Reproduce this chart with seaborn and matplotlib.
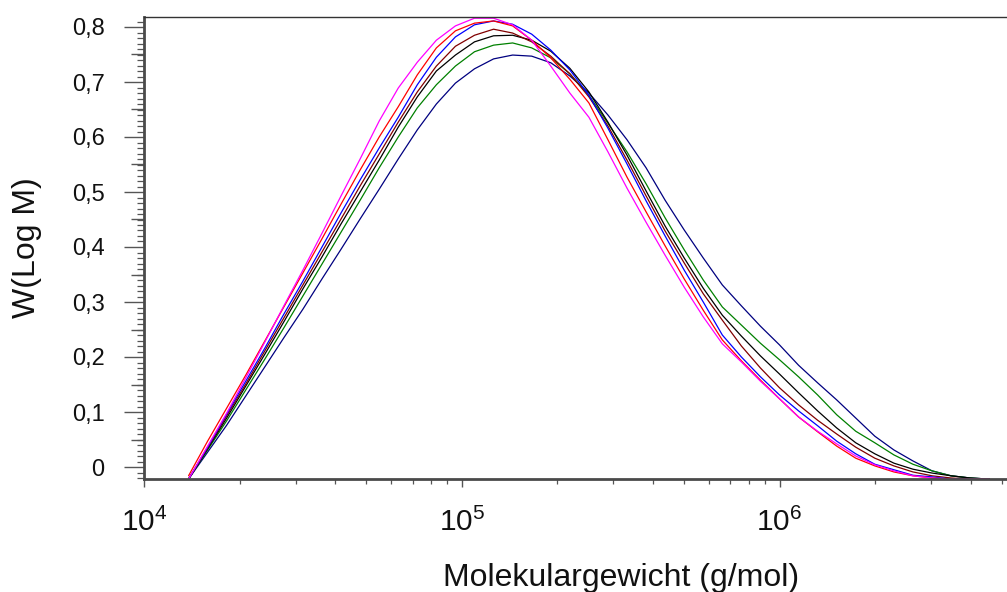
import numpy as np
import pandas as pd
import matplotlib
matplotlib.use("Agg")
import matplotlib.pyplot as plt
import seaborn as sns
from matplotlib.ticker import FixedLocator, MultipleLocator, FuncFormatter, LogLocator

# ---------------- data ----------------
molar_mass = [13804, 15849, 18197, 20893, 23988, 27542, 31623, 36308, 41687, 47863,
              54954, 63096, 72444, 83176, 95499, 109648, 125893, 144544, 165959, 190546,
              218776, 251189, 288403, 331131, 380189, 436516, 501187, 575440, 660693, 758578,
              870964, 1000000, 1148154, 1318257, 1513561, 1737801, 1995262, 2290868, 2630268,
              3019952, 3467369, 3981072, 4570882]

w_magenta = [-0.022, 0.038, 0.098, 0.162, 0.227, 0.293, 0.358, 0.425, 0.493, 0.560, 0.629,
             0.689, 0.736, 0.776, 0.802, 0.816, 0.816, 0.804, 0.776, 0.729, 0.680, 0.636,
             0.573, 0.507, 0.445, 0.385, 0.327, 0.273, 0.224, 0.191, 0.156, 0.124, 0.091,
             0.065, 0.042, 0.020, 0.004, -0.007, -0.016, -0.020, -0.022, -0.022, -0.022]
w_red = [-0.016, 0.047, 0.107, 0.167, 0.229, 0.291, 0.353, 0.415, 0.478, 0.540, 0.600,
         0.655, 0.713, 0.762, 0.793, 0.807, 0.811, 0.802, 0.776, 0.744, 0.705, 0.662,
         0.595, 0.527, 0.464, 0.402, 0.342, 0.285, 0.231, 0.193, 0.158, 0.124, 0.091,
         0.064, 0.038, 0.016, 0.002, -0.009, -0.016, -0.020, -0.022, -0.022, -0.022]
w_blue = [-0.022, 0.036, 0.096, 0.156, 0.216, 0.278, 0.338, 0.400, 0.462, 0.522, 0.580,
          0.636, 0.695, 0.745, 0.782, 0.804, 0.811, 0.805, 0.787, 0.758, 0.722, 0.676,
          0.616, 0.551, 0.484, 0.420, 0.358, 0.300, 0.240, 0.200, 0.164, 0.131, 0.102,
          0.075, 0.047, 0.024, 0.005, -0.005, -0.015, -0.018, -0.022, -0.022, -0.022]
w_brown = [-0.022, 0.035, 0.093, 0.151, 0.211, 0.271, 0.331, 0.391, 0.451, 0.511, 0.569,
           0.627, 0.682, 0.729, 0.765, 0.785, 0.796, 0.789, 0.773, 0.747, 0.715, 0.673,
           0.620, 0.558, 0.493, 0.429, 0.371, 0.315, 0.267, 0.220, 0.180, 0.144, 0.113,
           0.085, 0.060, 0.036, 0.016, 0.002, -0.009, -0.016, -0.020, -0.022, -0.022]
w_black = [-0.022, 0.033, 0.089, 0.147, 0.205, 0.264, 0.324, 0.382, 0.442, 0.500, 0.558,
           0.618, 0.673, 0.720, 0.749, 0.773, 0.784, 0.785, 0.776, 0.756, 0.725, 0.682,
           0.627, 0.567, 0.502, 0.438, 0.380, 0.325, 0.276, 0.238, 0.202, 0.169, 0.135,
           0.102, 0.071, 0.044, 0.024, 0.007, -0.004, -0.011, -0.016, -0.020, -0.022]
w_green = [-0.022, 0.031, 0.084, 0.140, 0.196, 0.253, 0.311, 0.369, 0.427, 0.485, 0.544,
           0.600, 0.653, 0.695, 0.729, 0.755, 0.767, 0.771, 0.762, 0.744, 0.715, 0.676,
           0.625, 0.573, 0.515, 0.453, 0.395, 0.340, 0.291, 0.258, 0.225, 0.195, 0.164,
           0.131, 0.095, 0.065, 0.044, 0.022, 0.005, -0.007, -0.016, -0.020, -0.022]
w_navy = [-0.022, 0.027, 0.076, 0.129, 0.182, 0.235, 0.287, 0.342, 0.396, 0.451, 0.505,
          0.560, 0.613, 0.660, 0.698, 0.724, 0.742, 0.749, 0.747, 0.735, 0.711, 0.680,
          0.640, 0.595, 0.544, 0.485, 0.431, 0.380, 0.331, 0.293, 0.256, 0.222, 0.185,
          0.153, 0.122, 0.089, 0.056, 0.031, 0.011, -0.007, -0.016, -0.020, -0.022]

series_names = ["Probe 1", "Probe 2", "Probe 3", "Probe 4", "Probe 5", "Probe 6", "Probe 7"]
series_values = [w_navy, w_green, w_black, w_brown, w_blue, w_red, w_magenta]
series_colors = ["#000080", "#008000", "#000000", "#800000", "#0000ff", "#ff0000", "#ff00ff"]

y_tick_values = [0, 0.1, 0.2, 0.3, 0.4, 0.5, 0.6, 0.7, 0.8]
y_mid_ticks = [0.05, 0.15, 0.25, 0.35, 0.45, 0.55, 0.65, 0.75]

frames = []
for name, vals in zip(series_names, series_values):
    frames.append(pd.DataFrame({"M": molar_mass, "W": vals, "Probe": name}))
df = pd.concat(frames, ignore_index=True)

# ---------------- style ----------------
sns.set_style("ticks")
plt.rcParams["font.family"] = ["Liberation Sans", "DejaVu Sans"]
plt.rcParams["mathtext.fontset"] = "custom"
plt.rcParams["mathtext.rm"] = "Liberation Sans"
plt.rcParams["mathtext.it"] = "Liberation Sans:italic"
plt.rcParams["mathtext.bf"] = "Liberation Sans:bold"

W, H = 1007, 592
fig = plt.figure(figsize=(W / 100, H / 100), dpi=100)
ax = fig.add_axes([144 / W, 1 - 479 / H, (W - 144) / W, (479 - 17) / H])

sns.lineplot(data=df, x="M", y="W", hue="Probe", palette=dict(zip(series_names, series_colors)),
             hue_order=series_names, estimator=None, sort=False, linewidth=0.9,
             legend=False, ax=ax)

ax.set_xscale("log")
ax.set_xlim(0.9995e4, 5.2e6)
ax.set_ylim(-12 / 550, 450 / 550)

# spines
for s in ["left", "bottom"]:
    ax.spines[s].set_color("#4a4a4a")
    ax.spines[s].set_linewidth(2.0)
ax.spines["top"].set_color("#333333")
ax.spines["top"].set_linewidth(1.0)
ax.spines["right"].set_visible(False)

# y ticks
ax.yaxis.set_major_locator(FixedLocator(y_tick_values))
ax.yaxis.set_minor_locator(MultipleLocator(0.01))
ax.yaxis.set_major_formatter(FuncFormatter(
    lambda v, p: "0" if abs(v) < 1e-9 else f"{v:.1f}".replace(".", ",")))
ax.tick_params(axis="y", which="major", direction="out", length=14.4, width=1.0,
               color="#555555", labelsize=17, pad=14, labelcolor="#111111")
ax.tick_params(axis="y", which="minor", direction="out", length=5, width=0.9, color="#555555")

sec = ax.secondary_yaxis("left")
sec.set_yticks(y_mid_ticks)
sec.tick_params(axis="y", length=9.4, width=1.0, color="#555555", labelleft=False)
sec.spines["left"].set_visible(False)

# x ticks
ax.xaxis.set_major_locator(LogLocator(base=10, numticks=10))
ax.xaxis.set_minor_locator(LogLocator(base=10, subs=np.arange(2, 10), numticks=20))
ax.tick_params(axis="x", which="major", direction="out", length=5.8, width=1.0,
               color="#555555", labelsize=21.5, pad=15, labelcolor="#111111")
ax.tick_params(axis="x", which="minor", direction="out", length=3.6, width=0.9,
               color="#555555", labelbottom=False)

ax.set_xlabel("Molekulargewicht (g/mol)", fontsize=23, color="#111111", va="center")
ax.xaxis.set_label_coords(0.553, -0.214)
ax.set_ylabel("W(Log M)", fontsize=23, color="#111111", va="center")
ax.yaxis.set_label_coords(-0.135, 0.5)

fig.savefig("out.png", dpi=100)
